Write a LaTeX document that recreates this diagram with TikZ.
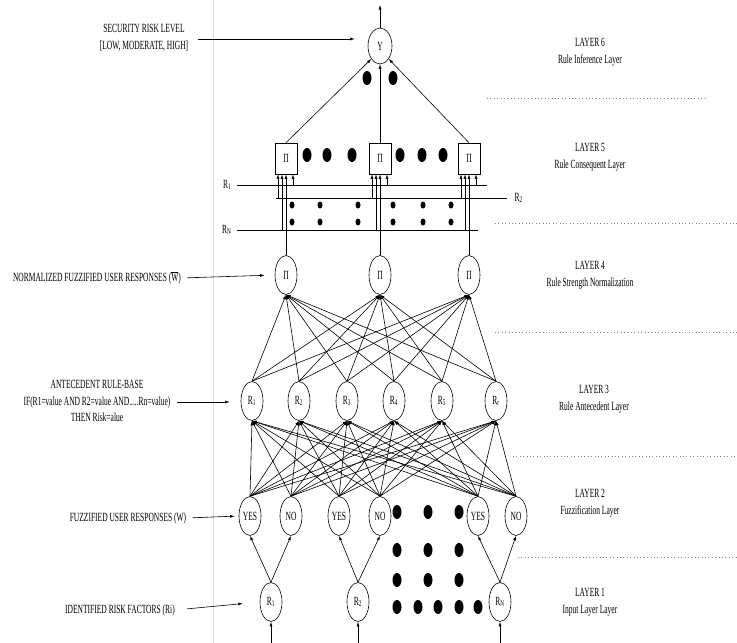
\documentclass[tikz,border=0pt]{standalone}
\usepackage{fontspec}
\setmainfont{Liberation Serif}[FakeStretch=0.6]
\usetikzlibrary{shapes,arrows.meta,positioning}
\tikzstyle{unit} = [draw, ellipse, inner sep=0pt, minimum width=22pt, minimum height=39pt]
\tikzstyle{prod} = [draw, rectangle, inner sep=0pt, minimum width=22pt, minimum height=31pt]
\tikzstyle{arr} = [-{Latex[length=4.5pt,width=3pt]}]
\tikzstyle{caption} = [align=center, inner sep=0pt, font=\fontsize{12.5}{17}\selectfont]
\tikzstyle{sep} = [gray, dash pattern=on 0.8pt off 2.6pt]

\begin{document}
\begin{tikzpicture}[x=1pt, y=-1pt, line width=0.6pt, font=\fontsize{12.5}{15}\selectfont]
	\useasboundingbox (0,0) rectangle (737,643);
	\draw[gray!25, line width=0.4pt] (213,0) -- (213,643);

	% layer 6: output
	\node[unit, minimum width=24pt, minimum height=36pt] (Y) at (380,46) {Y};
	\coordinate (out) at (380,5);
	\draw[arr] (Y.north) -- (out);
	\fill (367,78) ellipse (4.5 and 7);
	\fill (393,78) ellipse (4.5 and 7);

	% layer 5: consequents
	\node[prod] (b1) at (286,158.5) {Π};
	\node[prod] (b2) at (380,158.5) {Π};
	\node[prod] (b3) at (469,158.5) {Π};
	\draw[arr] (b1.north) -- (Y.south west);
	\draw[arr] (b2.north) -- (Y.south);
	\draw[arr] (b3.north) -- (Y.south east);
	\foreach \x in {307,327,352,400,422,443}
		\fill (\x,155) ellipse (4.5 and 7);

	% rule lines R1, R2, RN
	\coordinate (r1a) at (237,185); \coordinate (r1b) at (487,185);
	\coordinate (r2a) at (276,198); \coordinate (r2b) at (507,198);
	\coordinate (rna) at (237,230); \coordinate (rnb) at (478,230);
	\draw (r1a) -- (r1b);
	\draw (r2a) -- (r2b);
	\draw (rna) -- (rnb);
	\node[left=2pt] (lr1) at (r1a) {R\textsubscript{1}};
	\node[right=4pt] (lr2) at (r2b) {R\textsubscript{2}};
	\node[left=2pt] (lrn) at (rna) {R\textsubscript{N}};
	\foreach \b in {b1,b2,b3}{
		\draw[arr] ([xshift=-8pt]\b.south |- r2a) -- ([xshift=-8pt]\b.south);
		\draw[arr] ([xshift=-4pt]\b.south |- rna) -- ([xshift=-4pt]\b.south);
		\draw[arr] ([xshift=7pt]\b.south |- r1a) -- ([xshift=7pt]\b.south);
	}
	\foreach \x in {292,320,358,393,423,451}{
		\fill (\x,205) ellipse (2.5 and 3.5);
		\fill (\x,222) ellipse (2.5 and 3.5);
	}

	% layer 4: normalization
	\node[unit] (p1) at (286,275) {Π};
	\node[unit] (p2) at (380,275) {Π};
	\node[unit] (p3) at (469,275) {Π};
	\foreach \i in {1,2,3}
		\draw[arr] (p\i.north) -- (b\i.south);

	% layer 3: antecedents
	\node[unit] (q1) at (252,401) {R\textsubscript{1}};
	\node[unit] (q2) at (299,401) {R\textsubscript{2}};
	\node[unit] (q3) at (347,401) {R\textsubscript{3}};
	\node[unit] (q4) at (394,401) {R\textsubscript{4}};
	\node[unit] (q5) at (442,401) {R\textsubscript{5}};
	\node[unit] (q6) at (496,401) {R\textsubscript{r}};
	\foreach \i in {1,...,6}
		\foreach \j in {1,2,3}
			\draw[arr] (q\i.north) -- (p\j.south);

	% layer 2: fuzzification
	\node[unit] (m1) at (250,516) {YES};
	\node[unit] (m2) at (291,516) {NO};
	\node[unit] (m3) at (339,516) {YES};
	\node[unit] (m4) at (380,516) {NO};
	\node[unit] (m5) at (478,516) {YES};
	\node[unit] (m6) at (516,516) {NO};
	\foreach \i in {1,...,6}
		\foreach \j in {1,...,6}
			\draw[arr] (m\i.north) -- (q\j.south);
	\foreach \y in {512,550,580}
		\foreach \x in {397,428,459}
			\fill (\x,\y) ellipse (4.5 and 7);
	\foreach \x in {397,418,438,459,478}
		\fill (\x,607) ellipse (4.5 and 7);

	% layer 1: inputs
	\node[unit] (a1) at (271,602) {R\textsubscript{1}};
	\node[unit] (a2) at (358,602) {R\textsubscript{2}};
	\node[unit] (a3) at (500,602) {R\textsubscript{N}};
	\draw[arr] (a1.north) -- (m1.south);
	\draw[arr] (a1.north) -- (m2.south);
	\draw[arr] (a2.north) -- (m3.south);
	\draw[arr] (a2.north) -- (m4.south);
	\draw[arr] (a3.north) -- (m5.south);
	\draw[arr] (a3.north) -- (m6.south);
	\foreach \i/\x in {1/271,2/358,3/500}{
		\coordinate (in\i) at (\x,643);
		\draw[arr] (in\i) -- (a\i.south);
	}

	% descriptions on the left
	\node[caption] (risk) at (144,38) {SECURITY RISK LEVEL\\{[}LOW, MODERATE, HIGH{]}};
	\node[caption] (norm) at (97,278) {NORMALIZED FUZZIFIED USER RESPONSES ($\overline{\mbox{W}}$)};
	\node[caption, font=\fontsize{12.5}{16.5}\selectfont] (ante) at (97,401) {ANTECEDENT RULE-BASE\\IF(R1=value AND R2=value AND.....Rn=value)\\THEN Risk=alue};
	\node[caption] (fuzz) at (128,518) {FUZZIFIED USER RESPONSES (W)};
	\node[caption] (ident) at (120,610) {IDENTIFIED RISK FACTORS (Ri)};
	\draw[arr, shorten <=9pt, shorten >=13pt] (risk.east |- 0,39) -- (Y.west |- 0,39);
	\draw[arr, shorten <=6pt, shorten >=10pt] (norm.east) -- (p1.west);
	\draw[arr, shorten <=6pt, shorten >=11pt] (ante.east |- 0,402) -- (q1.west |- 0,402);
	\draw[arr, shorten <=6pt, shorten >=4pt] (fuzz.east) -- (m1.west);
	\draw[arr, shorten <=12pt, shorten >=17pt] (ident.east) -- (a1.west);

	% layer names on the right
	\node[caption] (l6) at (590,52) {LAYER 6\\Rule Inference Layer};
	\node[caption] (l5) at (590,157) {LAYER 5\\Rule Consequent Layer};
	\node[caption] (l4) at (590,275) {LAYER 4\\Rule Strength Normalization};
	\node[caption] (l3) at (594,399) {LAYER 3\\Rule Antecedent Layer};
	\node[caption] (l2) at (590,503) {LAYER 2\\Fuzzification Layer};
	\node[caption] (l1) at (590,602) {LAYER 1\\Input Layer Layer};
	\draw[sep] (487,98) -- (707,98);
	\draw[sep] (495,223) -- (737,223);
	\draw[sep] (495,332) -- (737,332);
	\draw[sep] (513,456) -- (737,456);
	\draw[sep] (518,557) -- (737,557);
\end{tikzpicture}
\end{document}
